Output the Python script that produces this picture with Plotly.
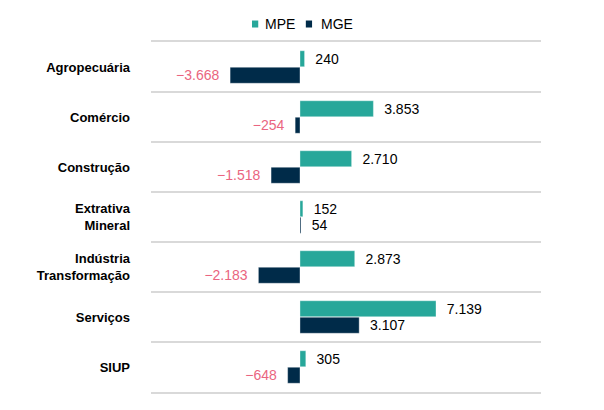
import plotly.graph_objects as go

categories = ["Agropecuária", "Comércio", "Construção", "Extrativa<br>Mineral",
              "Indústria<br>Transformação", "Serviços", "SIUP"]
mpe_values = [240, 3853, 2710, 152, 2873, 7139, 305]
mge_values = [-3668, -254, -1518, 54, -2183, 3107, -648]
series_names = ["MPE", "MGE"]

TEAL = "#27a79a"
NAVY = "#002b49"
PINK = "#ea6580"
PAD = "\u00a0\u00a0"
FONT = "Liberation Sans, Arial"


def fmt(v):
    s = f"{abs(v):,}".replace(",", ".")
    return ("\u2212" + s) if v < 0 else s


def texts(vals):
    return [(fmt(v) + PAD) if v < 0 else (PAD + fmt(v)) for v in vals]


def colors(vals):
    return [PINK if v < 0 else "#000000" for v in vals]


fig = go.Figure()
for name, vals, col in zip(series_names, [mpe_values, mge_values], [TEAL, NAVY]):
    fig.add_trace(go.Bar(
        y=categories, x=vals, orientation="h", name=name,
        marker=dict(color=col, line=dict(color="rgba(255,255,255,0.6)", width=0.6)),
        text=texts(vals), textposition="outside", cliponaxis=False,
        textfont=dict(color=colors(vals), size=14, family=FONT),
        showlegend=False, hoverinfo="skip",
    ))

# legend drawn as squares + text above the plot
legend_items = [(series_names[0], TEAL, 0.259, 0.2897), (series_names[1], NAVY, 0.397, 0.4333)]
shapes = []
annotations = []
for name, col, sx, tx in legend_items:
    shapes.append(dict(type="rect", xref="paper", yref="paper", x0=sx, x1=sx + 0.016,
                       y0=1.0414, y1=1.0614, fillcolor=col, line=dict(width=0)))
    annotations.append(dict(text=name, xref="paper", yref="paper", x=tx, y=1.05,
                            xanchor="left", yanchor="middle", showarrow=False,
                            borderpad=0, font=dict(size=14, family=FONT, color="#000000")))

fig.update_layout(
    width=604, height=410,
    margin=dict(l=143, r=71, t=34, b=26),
    paper_bgcolor="white", plot_bgcolor="white",
    barmode="group", bargap=0.34, bargroupgap=0.03,
    font=dict(family=FONT, size=13, color="#000000"),
    showlegend=False,
    shapes=shapes, annotations=annotations,
)
fig.update_xaxes(range=[-7820, 12650], showticklabels=False, showgrid=False,
                 zeroline=False, showline=True, mirror=True, linecolor="#d9d9d9",
                 linewidth=1.5, ticks="")
fig.update_yaxes(autorange="reversed", tickson="boundaries", showgrid=True,
                 gridcolor="#d9d9d9", gridwidth=1.5, ticks="", ticklabelstandoff=20,
                 tickfont=dict(size=13, family=FONT, color="#000000", weight="bold"),
                 showline=False, zeroline=False)

fig.write_html("out.html")
